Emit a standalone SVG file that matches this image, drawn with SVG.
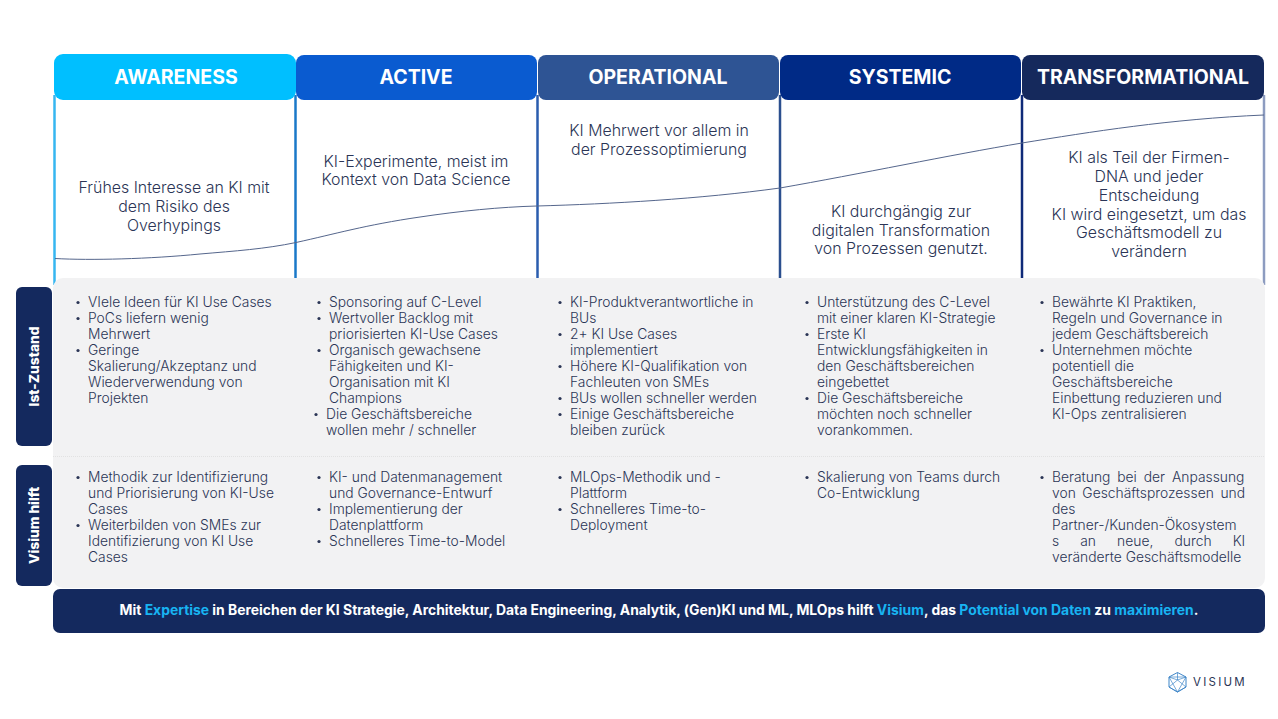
<svg xmlns="http://www.w3.org/2000/svg" width="1278" height="719" viewBox="0 0 1278 719">
<style>
text{font-family:"Inter","Liberation Sans",sans-serif}
.h{font-size:19.5px;font-weight:700;fill:#fff;text-anchor:middle}
.d{font-size:15.9px;font-weight:300;fill:#2b3556;text-anchor:middle}
.b{font-size:13.85px;font-weight:300;fill:#2b3556}
.v{font-size:13.7px;font-weight:800;fill:#fff;text-anchor:middle}
.f{font-size:13.9px;font-weight:700;fill:#fff}
.c{fill:#18b4f2}
</style>
<rect width="1278" height="719" fill="#fff"/>
<g id="columns" stroke-width="2.500" fill="none">
<path d="M54.500 95V285" stroke="#36b6f0"/>
<path d="M295.500 95V278" stroke="#1a78c8"/>
<path d="M537.500 95V278" stroke="#2a5cae"/>
<path d="M780 95V278" stroke="#2b4f8e"/>
<path d="M1022 95V278" stroke="#0f2a78"/>
<path d="M1264 95V285" stroke="#8d9cc0"/>
</g>
<g id="panel"><rect x="53" y="278" width="1212" height="310" rx="10" fill="#f2f2f3"/><path d="M53 456.500H1265" stroke="#e2e2e2" stroke-dasharray="1 1"/></g>
<g id="connectors"><path d="M55 258.500C90 260.500 150 259 200 254C235 251 265 249 296 242.500C335 234 365 225 420 217C460 211 500 207 537 206C610 204 700 199 780 188C860 174 950 155 1022 143C1090 132 1170 119 1264 115" fill="none" stroke="#55668c" stroke-width="1"/></g>
<g id="awareness"><rect x="54" y="54" width="242" height="46" rx="9" fill="#00bfff"/><text class="h" x="176" y="84">AWARENESS</text>
<text class="d"><tspan x="174" y="193">Frühes Interesse an KI mit</tspan><tspan x="174" y="212">dem Risiko des</tspan><tspan x="174" y="231">Overhypings</tspan></text></g>
<g id="active"><rect x="296" y="55" width="241" height="45" rx="8" fill="#0a5bd0"/><text class="h" x="416" y="84">ACTIVE</text>
<text class="d"><tspan x="416" y="167">KI-Experimente, meist im</tspan><tspan x="416" y="185">Kontext von Data Science</tspan></text></g>
<g id="operational"><rect x="538" y="55" width="241" height="45" rx="8" fill="#2e5494"/><text class="h" x="658" y="84">OPERATIONAL</text>
<text class="d"><tspan x="659" y="136">KI Mehrwert vor allem in</tspan><tspan x="659" y="155">der Prozessoptimierung</tspan></text></g>
<g id="systemic"><rect x="780" y="55" width="241" height="45" rx="8" fill="#002a86"/><text class="h" x="900" y="84">SYSTEMIC</text>
<text class="d"><tspan x="901" y="217">KI durchgängig zur</tspan><tspan x="901" y="236">digitalen Transformation</tspan><tspan x="901" y="254">von Prozessen genutzt.</tspan></text></g>
<g id="transformational"><rect x="1022" y="55" width="242" height="45" rx="8" fill="#15295c"/><text class="h" x="1143" y="84">TRANSFORMATIONAL</text>
<text class="d"><tspan x="1149" y="163">KI als Teil der Firmen-</tspan><tspan x="1149" y="182">DNA und jeder</tspan><tspan x="1149" y="201">Entscheidung</tspan><tspan x="1149" y="220">KI wird eingesetzt, um das</tspan><tspan x="1149" y="238">Geschäftsmodell zu</tspan><tspan x="1149" y="257">verändern</tspan></text></g>
<g id="ist-zustand"><rect x="16" y="287" width="36" height="159" rx="6" fill="#14295e"/><text class="v" transform="translate(38.500,366.500) rotate(-90)">Ist-Zustand</text></g>
<g id="visium-hilft"><rect x="16" y="465" width="36" height="121" rx="6" fill="#14295e"/><text class="v" transform="translate(38.500,525.500) rotate(-90)">Visium hilft</text></g>
<g id="ist-text"><text class="b">
<tspan x="88" y="307">VIele Ideen für KI Use Cases</tspan><tspan x="88" y="323">PoCs liefern wenig</tspan><tspan x="88" y="339">Mehrwert</tspan><tspan x="88" y="355">Geringe</tspan><tspan x="88" y="371">Skalierung/Akzeptanz und</tspan><tspan x="88" y="387">Wiederverwendung von</tspan><tspan x="88" y="403">Projekten</tspan>
<tspan x="329" y="307">Sponsoring auf C-Level</tspan><tspan x="329" y="323">Wertvoller Backlog mit</tspan><tspan x="329" y="339">priorisierten KI-Use Cases</tspan><tspan x="329" y="355">Organisch gewachsene</tspan><tspan x="329" y="371">Fähigkeiten und KI-</tspan><tspan x="329" y="387">Organisation mit KI</tspan><tspan x="329" y="403">Champions</tspan><tspan x="326" y="419">Die Geschäftsbereiche</tspan><tspan x="326" y="435">wollen mehr / schneller</tspan>
<tspan x="570" y="307">KI-Produktverantwortliche in</tspan><tspan x="570" y="323">BUs</tspan><tspan x="570" y="339">2+ KI Use Cases</tspan><tspan x="570" y="355">implementiert</tspan><tspan x="570" y="371">Höhere KI-Qualifikation von</tspan><tspan x="570" y="387">Fachleuten von SMEs</tspan><tspan x="570" y="403">BUs wollen schneller werden</tspan><tspan x="570" y="419">Einige Geschäftsbereiche</tspan><tspan x="570" y="435">bleiben zurück</tspan>
<tspan x="817" y="307">Unterstützung des C-Level</tspan><tspan x="817" y="323">mit einer klaren KI-Strategie</tspan><tspan x="817" y="339">Erste KI</tspan><tspan x="817" y="355">Entwicklungsfähigkeiten in</tspan><tspan x="817" y="371">den Geschäftsbereichen</tspan><tspan x="817" y="387">eingebettet</tspan><tspan x="817" y="403">Die Geschäftsbereiche</tspan><tspan x="817" y="419">möchten noch schneller</tspan><tspan x="817" y="435">vorankommen.</tspan>
<tspan x="1052" y="307">Bewährte KI Praktiken,</tspan><tspan x="1052" y="323">Regeln und Governance in</tspan><tspan x="1052" y="339">jedem Geschäftsbereich</tspan><tspan x="1052" y="355">Unternehmen möchte</tspan><tspan x="1052" y="371">potentiell die</tspan><tspan x="1052" y="387">Geschäftsbereiche</tspan><tspan x="1052" y="403">Einbettung reduzieren und</tspan><tspan x="1052" y="419">KI-Ops zentralisieren</tspan>
</text></g>
<g id="hilft-text"><text class="b">
<tspan x="88" y="482">Methodik zur Identifizierung</tspan><tspan x="88" y="498">und Priorisierung von KI-Use</tspan><tspan x="88" y="514">Cases</tspan><tspan x="88" y="530">Weiterbilden von SMEs zur</tspan><tspan x="88" y="546">Identifizierung von KI Use</tspan><tspan x="88" y="562">Cases</tspan>
<tspan x="329" y="482">KI- und Datenmanagement</tspan><tspan x="329" y="498">und Governance-Entwurf</tspan><tspan x="329" y="514">Implementierung der</tspan><tspan x="329" y="530">Datenplattform</tspan><tspan x="329" y="546">Schnelleres Time-to-Model</tspan>
<tspan x="570" y="482">MLOps-Methodik und -</tspan><tspan x="570" y="498">Plattform</tspan><tspan x="570" y="514">Schnelleres Time-to-</tspan><tspan x="570" y="530">Deployment</tspan>
<tspan x="817" y="482">Skalierung von Teams durch</tspan><tspan x="817" y="498">Co-Entwicklung</tspan>
<tspan x="1052" y="482" word-spacing="3">Beratung bei der Anpassung</tspan><tspan x="1052" y="498" word-spacing="2.700">von Geschäftsprozessen und</tspan><tspan x="1052" y="514">des</tspan><tspan x="1052" y="530">Partner-/Kunden-Ökosystem</tspan><tspan x="1052" y="546" word-spacing="17.200">s an neue, durch KI</tspan><tspan x="1052" y="562">veränderte Geschäftsmodelle</tspan>
</text></g>
<g id="bullets" fill="#2b3556">
<circle cx="78" cy="302.500" r="1.600"/><circle cx="78" cy="318.500" r="1.600"/><circle cx="78" cy="350.500" r="1.600"/>
<circle cx="319" cy="302.500" r="1.600"/><circle cx="319" cy="318.500" r="1.600"/><circle cx="319" cy="350.500" r="1.600"/><circle cx="316" cy="414.500" r="1.600"/>
<circle cx="560" cy="302.500" r="1.600"/><circle cx="560" cy="334.500" r="1.600"/><circle cx="560" cy="366.500" r="1.600"/><circle cx="560" cy="398.500" r="1.600"/><circle cx="560" cy="414.500" r="1.600"/>
<circle cx="807" cy="302.500" r="1.600"/><circle cx="807" cy="334.500" r="1.600"/><circle cx="807" cy="398.500" r="1.600"/>
<circle cx="1042" cy="302.500" r="1.600"/><circle cx="1042" cy="350.500" r="1.600"/>
<circle cx="78" cy="477.500" r="1.600"/><circle cx="78" cy="525.500" r="1.600"/>
<circle cx="319" cy="477.500" r="1.600"/><circle cx="319" cy="509.500" r="1.600"/><circle cx="319" cy="541.500" r="1.600"/>
<circle cx="560" cy="477.500" r="1.600"/><circle cx="560" cy="509.500" r="1.600"/>
<circle cx="807" cy="477.500" r="1.600"/>
<circle cx="1042" cy="477.500" r="1.600"/>
</g>
<g id="banner"><rect x="53" y="589" width="1212" height="44" rx="7" fill="#14295e"/><text class="f" x="659" y="615" text-anchor="middle">Mit <tspan class="c">Expertise</tspan> in Bereichen der KI Strategie, Architektur, Data Engineering, Analytik, (Gen)KI und ML, MLOps hilft <tspan class="c">Visium</tspan>, das <tspan class="c">Potential von Daten</tspan> zu <tspan class="c">maximieren</tspan>.</text></g>
<g id="logo" fill="none" stroke="#3f86c8"><path d="M1177.500 672.500L1186 677V687L1177.500 692L1169 687V677Z"/><path d="M1169 677L1177.500 692L1186 677ZM1177.500 672.500V680M1169 687L1177.500 680L1186 687M1169 677L1177.500 680L1186 677M1169 687L1177.500 692L1186 687" stroke-width=".7"/><text x="1193" y="686" font-size="11.500" font-weight="400" letter-spacing="2.250" fill="#2b3556" stroke="none">VISIUM</text></g>
</svg>
